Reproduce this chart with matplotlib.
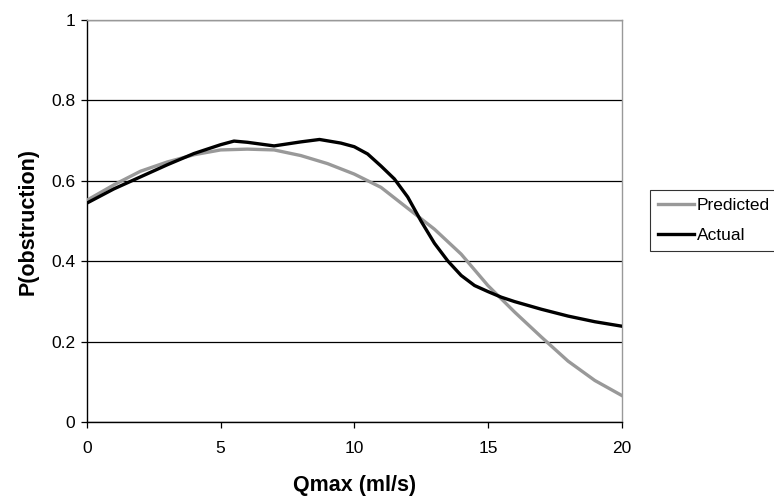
import matplotlib
matplotlib.use("Agg")
import matplotlib.pyplot as plt

plt.rcParams['font.family'] = ['Liberation Sans', 'DejaVu Sans']

# Curva predicha
q_pred = [0, 1, 2, 3, 4, 5, 6, 7, 8, 9, 10, 11, 12, 13, 14, 15, 16, 17, 18, 19, 20]
p_pred = [0.552, 0.59, 0.624, 0.647, 0.665, 0.677, 0.679, 0.677, 0.663, 0.643, 0.617,
          0.584, 0.532, 0.48, 0.418, 0.34, 0.274, 0.212, 0.152, 0.104, 0.067]

# Curva real
q_act = [0, 1, 2, 3, 4, 5, 5.5, 6, 7, 8, 8.7, 9.5, 10, 10.5, 11, 11.5, 12, 12.5, 13,
         13.5, 14, 14.5, 15, 15.5, 16, 17, 18, 19, 20]
p_act = [0.545, 0.58, 0.61, 0.64, 0.668, 0.69, 0.699, 0.696, 0.687, 0.697, 0.703, 0.694,
         0.685, 0.667, 0.637, 0.605, 0.56, 0.5, 0.445, 0.401, 0.365, 0.34, 0.325, 0.311,
         0.3, 0.281, 0.264, 0.25, 0.239]

fig = plt.figure(figsize=(7.74, 4.96), dpi=100)
ax = fig.add_axes([0.1124, 0.1486, 0.6906, 0.8111])

ax.plot(q_pred, p_pred, color="#999999", lw=2.4, label="Predicted", zorder=3)
ax.plot(q_act, p_act, color="black", lw=2.4, label="Actual", zorder=4)

ax.set_xlim(0, 20)
ax.set_ylim(0, 1)
ax.set_xticks([0, 5, 10, 15, 20])
ax.set_yticks([0, 0.2, 0.4, 0.6, 0.8, 1])
ax.set_yticklabels(["0", "0.2", "0.4", "0.6", "0.8", "1"])
ax.grid(axis="y", color="black", lw=0.9)
ax.set_axisbelow(True)
ax.tick_params(direction="out", length=4.5, width=0.9, labelsize=12.5, color="black")
ax.tick_params(axis="y", pad=4)
ax.tick_params(axis="x", pad=9)

for s in ["left", "bottom"]:
    ax.spines[s].set_color("black")
    ax.spines[s].set_linewidth(1)
for s in ["right", "top"]:
    ax.spines[s].set_color("#999999")
    ax.spines[s].set_linewidth(1)

ax.set_xlabel("Qmax (ml/s)", fontsize=15.5, fontweight="bold", labelpad=14)
ax.set_ylabel("P(obstruction)", fontsize=15.5, fontweight="bold", labelpad=9)

leg = fig.legend(loc="upper left", bbox_to_anchor=(650 / 774, 1 - 190 / 496),
                 fontsize=12.5, frameon=True, fancybox=False, handlelength=2.1,
                 handletextpad=0.15, borderpad=0.45, labelspacing=0.85, borderaxespad=0)
leg.get_frame().set_edgecolor("black")
leg.get_frame().set_linewidth(0.8)

fig.savefig("out.png", dpi=100)
plt.close()
